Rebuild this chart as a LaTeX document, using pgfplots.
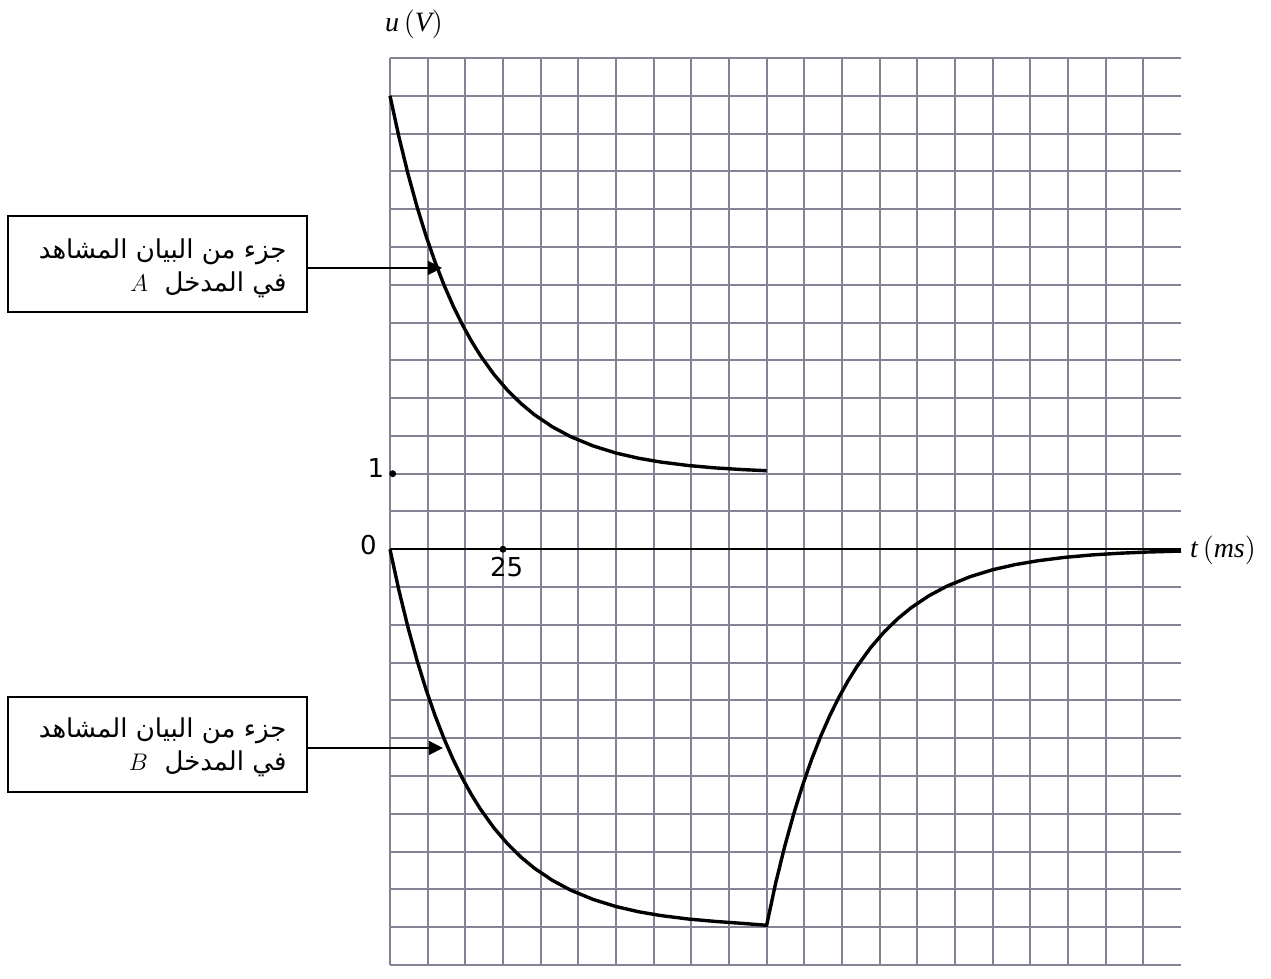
\documentclass[border=0pt]{standalone}
\usepackage{fontspec}
\setmainfont{DejaVu Sans}
\newfontfamily\arabicfont[Script=Arabic]{DejaVu Sans}
\newfontfamily\tms{Liberation Serif}
\usepackage{pgfplots}
\pgfplotsset{compat=1.18}
\usetikzlibrary{arrows.meta}
\TeXXeTstate=1
\definecolor{gridc}{RGB}{132,130,148}

\pgfplotstableread{
t u
0 6
2 5.451
4 4.963
6 4.528
8 4.141
10 3.796
12 3.489
14 3.216
16 2.973
18 2.756
20 2.563
23 2.313
26 2.103
29 1.927
32 1.778
36 1.617
40 1.489
45 1.366
50 1.273
55 1.204
60 1.153
66 1.108
72 1.076
78 1.054
83.33 1.039
}\curveA

\pgfplotstableread{
t u
0 0
2 -0.549
4 -1.038
6 -1.473
8 -1.860
10 -2.205
12 -2.512
14 -2.785
16 -3.028
18 -3.244
20 -3.437
23 -3.687
26 -3.897
29 -4.074
32 -4.222
36 -4.383
40 -4.511
45 -4.634
50 -4.727
55 -4.796
60 -4.847
66 -4.892
72 -4.924
78 -4.950
83.33 -4.975
85.33 -4.415
87.33 -3.931
89.33 -3.499
91.33 -3.115
93.33 -2.773
95.33 -2.469
97.33 -2.198
99.33 -1.957
101.33 -1.742
103.33 -1.550
106.33 -1.302
109.33 -1.094
112.33 -0.919
115.33 -0.772
119.33 -0.612
123.33 -0.485
128.33 -0.363
133.33 -0.271
138.33 -0.203
143.33 -0.152
149.33 -0.107
155.33 -0.075
161.33 -0.053
167.33 -0.037
175 -0.024
}\curveB

\begin{document}
\begin{tikzpicture}
\begin{axis}[
  scale only axis, width=395.5pt, height=453.5pt,
  at={(0,0)}, anchor=south west,
  xmin=0, xmax=175, ymin=-5.5, ymax=6.5,
  clip=false,
  axis line style={draw=none},
  major tick length=0pt,
  xtick={0,8.33333,16.66667,25,33.33333,41.66667,50,58.33333,66.66667,75,83.33333,91.66667,100,108.33333,116.66667,125,133.33333,141.66667,150,158.33333,166.66667},
  ytick={-5.5,-5,...,6.5},
  xticklabels={}, yticklabels={},
  grid=major,
  grid style={gridc, line width=1pt},
]
% invisible bounding frame (reference proportions)
\path (axis cs:-86.28,-5.526) rectangle (axis cs:194.91,7.267);

\draw[black, line width=1pt] (axis cs:0,0) -- (axis cs:175,0);

\addplot[black, line width=1.7pt, mark=none] table[x=t, y=u] {\curveA};
\addplot[black, line width=1.7pt, mark=none] table[x=t, y=u] {\curveB};

\addplot[only marks, mark=*, mark size=1.5pt, black] coordinates {(0.6,1) (25,0)};

\node[font=\fontsize{13}{15.6}\selectfont, anchor=east] at (axis cs:-1.4,0.05) {0};
\node[font=\fontsize{13}{15.6}\selectfont] at (axis cs:-3.1,1.08) {1};
\node[font=\fontsize{13}{15.6}\selectfont] at (axis cs:25.8,-0.23) {25};

\node[font=\fontsize{14}{17}\selectfont] at (axis cs:5.3,6.94) {$\mbox{\tms\itshape u}\,\big(\mbox{\tms\itshape V}\big)$};
\node[font=\fontsize{14}{17}\selectfont] at (axis cs:184.3,-0.02) {$\mbox{\tms\itshape t}\,\big(\mbox{\tms\itshape ms}\big)$};

% box A
\draw[black, line width=0.8pt] (axis cs:-84.51,3.139) rectangle (axis cs:-18.36,4.410);
\draw[black, line width=0.8pt, -{Triangle[length=7pt,width=7pt]}] (axis cs:-18.36,3.722) -- (axis cs:11.5,3.722);
\node[anchor=east, align=right, inner sep=0pt, font=\arabicfont\fontsize{13}{16.5}\selectfont] at (axis cs:-22.8,3.72)
  {\beginR جزء من البيان المشاهد\endR\\ \beginR في المدخل \ $A$\endR};

% box B
\draw[black, line width=0.8pt] (axis cs:-84.51,-3.211) rectangle (axis cs:-18.36,-1.954);
\draw[black, line width=0.8pt, -{Triangle[length=7pt,width=7pt]}] (axis cs:-18.36,-2.629) -- (axis cs:11.7,-2.629);
\node[anchor=east, align=right, inner sep=0pt, font=\arabicfont\fontsize{13}{16.5}\selectfont] at (axis cs:-22.8,-2.62)
  {\beginR جزء من البيان المشاهد\endR\\ \beginR في المدخل \ $B$\endR};
\end{axis}
\end{tikzpicture}
\end{document}
